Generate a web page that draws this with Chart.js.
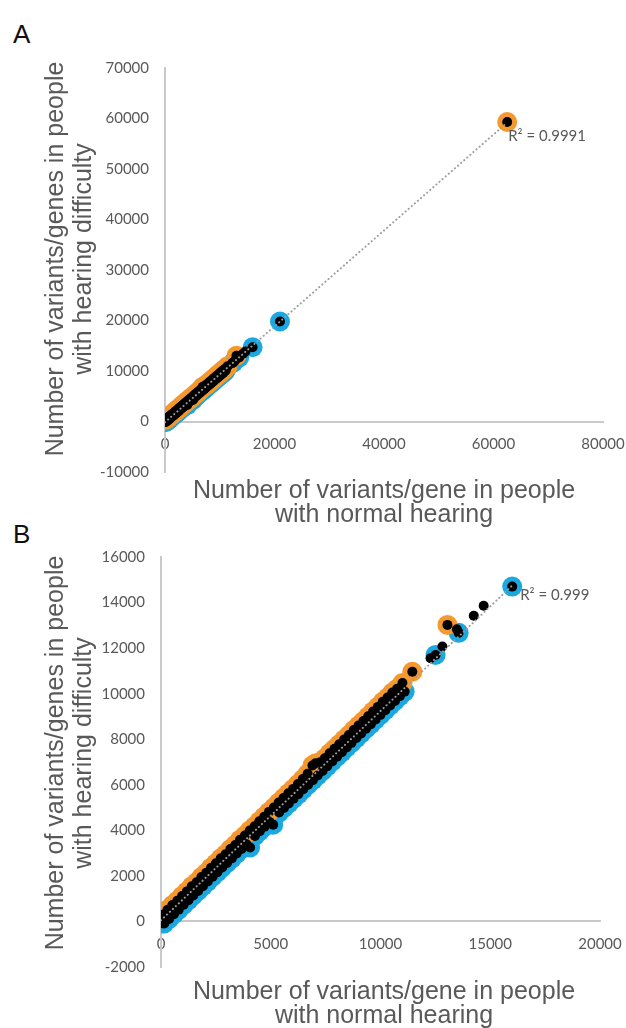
<!DOCTYPE html>
<html>
<head>
<meta charset="utf-8">
<script src="https://cdn.jsdelivr.net/npm/chart.js@4.4.1/dist/chart.umd.min.js"></script>
<style>
  html, body { margin: 0; padding: 0; background: #fff; }
  body { width: 626px; height: 1028px; position: relative; overflow: hidden; font-family: "Liberation Sans", Arial, sans-serif; }
  canvas { position: absolute; left: 0; }
  #chartA { top: 0; }
  #chartB { top: 500px; }
  .panel { position: absolute; font-size: 26px; line-height: 26px; color: #111; }
  .xtitle { position: absolute; width: 500px; text-align: center; font-size: 25px; line-height: 24px; color: #595959; }
  .ytitle { position: absolute; width: 440px; text-align: center; font-size: 25px; line-height: 28px; color: #595959; transform: rotate(-90deg); }
</style>
</head>
<body>
<div class="panel" style="left:13px; top:21px;">A</div>
<div class="panel" style="left:13px; top:521px;">B</div>

<canvas id="chartA" width="626" height="520"></canvas>
<canvas id="chartB" width="626" height="528"></canvas>

<div class="ytitle" style="left:-152px; top:231px;">Number of variants/genes in people<br>with hearing difficulty</div>
<div class="xtitle" style="left:134px; top:477px;">Number of variants/gene in people<br>with normal hearing</div>
<div class="ytitle" style="left:-152px; top:725px;">Number of variants/genes in people<br>with hearing difficulty</div>
<div class="xtitle" style="left:134px; top:978px;">Number of variants/gene in people<br>with normal hearing</div>

<script>
// genes with more variants in the hearing-difficulty group (orange)
const orangeBand = [
  [80, 300], [300, 510], [520, 720], [740, 910], [960, 1120], [1180, 1320], [1400, 1540],
  [1620, 1720], [1840, 1950], [2060, 2140], [2280, 2360], [2500, 2550], [2720, 2770],
  [2940, 2950], [3160, 3180], [3380, 3360], [3600, 3590], [3820, 3770], [4040, 3990],
  [4260, 4180], [4480, 4400], [4700, 4600], [4920, 4810], [5140, 5000], [5360, 5220],
  [5580, 5420], [5800, 5630], [6020, 5820], [6240, 6030], [6460, 6250], [6680, 6480],
  [6900, 6850], [7050, 6950], [7250, 6990], [7460, 7160], [7680, 7380], [7900, 7580],
  [8120, 7780], [8340, 7990], [8560, 8180], [8780, 8400], [9000, 8600], [9220, 8800],
  [9440, 9010], [9660, 9220], [9880, 9420], [10100, 9640], [10320, 9830], [10540, 10050],
  [10760, 10220], [11000, 10470], [11450, 10960], [13050, 13020]
];

// genes with fewer variants in the hearing-difficulty group (blue)
const blueBand = [
  [0, -80], [150, -90], [370, 110], [590, 320], [810, 520], [1030, 730], [1250, 930],
  [1470, 1140], [1690, 1340], [1910, 1550], [2130, 1750], [2350, 1960], [2570, 2160],
  [2790, 2370], [3010, 2570], [3230, 2770], [3450, 2980], [3670, 3180], [3900, 3390],
  [4060, 3250], [4280, 3750], [4500, 3960], [4720, 4160], [4940, 4370], [5110, 4250],
  [5380, 4780], [5600, 4980], [5820, 5180], [6040, 5390], [6260, 5590], [6480, 5800],
  [6700, 6000], [6920, 6200], [7140, 6410], [7360, 6610], [7580, 6820], [7800, 7020],
  [8020, 7230], [8240, 7430], [8460, 7640], [8680, 7840], [8900, 8050], [9120, 8250],
  [9340, 8460], [9560, 8660], [9780, 8870], [10000, 9070], [10220, 9270], [10440, 9480],
  [10660, 9680], [10880, 9890], [11100, 10090], [12510, 11700], [13560, 12670], [16000, 14700]
];

// points with no coloured marker
const blackOnly = [[12280, 11560], [12820, 12070], [13480, 12830], [14250, 13420], [14700, 13860]];

// the two largest genes, only in panel A
const orangeFar = [[62500, 59300]];
const blueFar = [[21000, 19800]];

// trendline ends
const trendA = [[0, -150], [62500, 59200]];
const trendB = [[0, 50], [16000, 14750]];
const r2A = "R\u00b2 = 0.9991";
const r2B = "R\u00b2 = 0.999";

const ticksA = { xMin: 0, xMax: 80000, xStep: 20000, yMin: -10000, yMax: 70000, yStep: 10000 };
const ticksB = { xMin: 0, xMax: 20000, xStep: 5000, yMin: -2000, yMax: 16000, yStep: 2000 };

const ORANGE = "#f4992f";
const BLUE = "#1ba8e0";
const GREY_TEXT = "#595959";
const AXIS = "#c9c9c9";
const Y_AXIS_W = 80;

const toXY = arr => arr.map(p => ({ x: p[0], y: p[1] }));

// R² text next to the end of the trendline
const r2Label = {
    id: "r2Label",
    afterDatasetsDraw(chart, args, opts) {
        const { ctx, scales: { x, y } } = chart;
        const px = x.getPixelForValue(opts.at[0]);
        const py = y.getPixelForValue(opts.at[1]);
        ctx.save();
        ctx.font = "15px Lato";
        ctx.fillStyle = GREY_TEXT;
        ctx.textBaseline = "middle";
        ctx.fillText(opts.text, px + opts.dx, py + opts.dy);
        ctx.restore();
    }
};

// fixed axis sizes, so the layout padding alone fixes the plot area
function fixSize(s) {
    if (s.isHorizontal()) s.height = 0; else s.width = Y_AXIS_W;
    s.paddingLeft = 0;
    s.paddingRight = 0;
    s.paddingTop = 0;
    s.paddingBottom = 0;
}

function makeChart(id, orange, blue, black, trend, t, pad, label) {
    const tickFont = { family: "Lato", size: 15 };
    new Chart(document.getElementById(id), {
        type: "scatter",
        data: {
            datasets: [
                {   // dataset 0 is drawn on top
                    data: toXY(trend),
                    showLine: true,
                    borderColor: "#9c9c9c",
                    borderWidth: 2,
                    borderDash: [0.1, 4],
                    borderCapStyle: "round",
                    pointRadius: 0
                },
                {
                    data: toXY(black),
                    backgroundColor: "#000",
                    pointRadius: 5,
                    pointBorderWidth: 0
                },
                {
                    data: toXY(orange),
                    backgroundColor: ORANGE,
                    pointRadius: 10,
                    pointBorderWidth: 0
                },
                {
                    data: toXY(blue),
                    backgroundColor: BLUE,
                    pointRadius: 10,
                    pointBorderWidth: 0
                }
            ]
        },
        options: {
            responsive: false,
            animation: false,
            events: [],
            layout: { padding: pad },
            plugins: {
                legend: { display: false },
                tooltip: { enabled: false },
                r2Label: label
            },
            scales: {
                x: {
                    type: "linear",
                    min: t.xMin, max: t.xMax,
                    position: { y: 0 },
                    afterFit: fixSize,
                    grid: { display: false, drawTicks: false },
                    border: { display: true, color: AXIS, width: 2 },
                    ticks: { stepSize: t.xStep, padding: 14, color: GREY_TEXT, font: tickFont, callback: v => String(v) }
                },
                y: {
                    type: "linear",
                    min: t.yMin, max: t.yMax,
                    position: "left",
                    afterFit: fixSize,
                    grid: { display: false, drawTicks: false },
                    border: { display: true, color: AXIS, width: 2 },
                    ticks: { stepSize: t.yStep, padding: 16, color: GREY_TEXT, font: tickFont, callback: v => String(v) }
                }
            }
        },
        plugins: [r2Label]
    });
}

makeChart("chartA",
    orangeBand.concat(orangeFar),
    blueBand.concat(blueFar),
    orangeBand.concat(blueBand, blackOnly, orangeFar, blueFar),
    trendA, ticksA,
    { left: 165 - Y_AXIS_W, right: 23, top: 68, bottom: 48 },
    { text: r2A, at: trendA[1], dx: 1, dy: 14 });

makeChart("chartB",
    orangeBand,
    blueBand,
    orangeBand.concat(blueBand, blackOnly),
    trendB, ticksB,
    { left: 161 - Y_AXIS_W, right: 26, top: 57, bottom: 61 },
    { text: r2B, at: trendB[1], dx: 8, dy: 10 });
</script>
</body>
</html>
